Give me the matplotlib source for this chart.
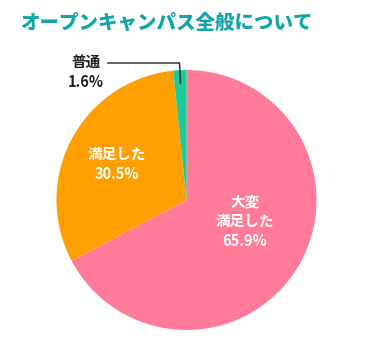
import matplotlib
matplotlib.use("Agg")
from matplotlib import pyplot as plt

plt.rcParams["font.family"] = ["Noto Sans CJK JP", "DejaVu Sans"]

title = "オープンキャンパス全般について"
categories = ["大変\n満足した", "満足した", "普通"]
values = [65.9, 30.5, 1.6]
colors = ["#FF7B98", "#FFA000", "#1EC99A"]

W, H = 384, 354
fig = plt.figure(figsize=(W / 100, H / 100), dpi=100)
ax = fig.add_axes([0, 0, 1, 1])

cx, cy, r = 186.5, H - 200, 130
wedges, _ = ax.pie(values, colors=colors, startangle=90, counterclock=False,
                   center=(cx, cy), radius=r, frame=False,
                   wedgeprops={"linewidth": 0})
ax.set_xlim(0, W)
ax.set_ylim(0, H)
ax.set_aspect("auto")
ax.axis("off")

fig.text(20 / W, 1 - 23 / H, title, color="#12A6A9", fontsize=14,
         fontweight="heavy", va="center", ha="left")

# 大変満足した / 満足した はスライス内に白字
ax.text(245, H - 221, f"{categories[0]}\n{values[0]}%", color="white",
        fontsize=10.5, fontweight="bold", ha="center", va="center",
        linespacing=1.3)
ax.text(117, H - 164, f"{categories[1]}\n{values[1]}%", color="white",
        fontsize=10.5, fontweight="bold", ha="center", va="center",
        linespacing=1.3)

# 普通 は外側に引き出し線付き
ax.text(86, H - 72, f"{categories[2]}\n{values[2]}%", color="#222222",
        fontsize=10.5, fontweight="bold", ha="center", va="center",
        linespacing=1.3)
ax.plot([108, 179.5, 180.5], [H - 63, H - 63, H - 83], color="#333333",
        linewidth=1.1)

fig.savefig("out.png", dpi=100)
